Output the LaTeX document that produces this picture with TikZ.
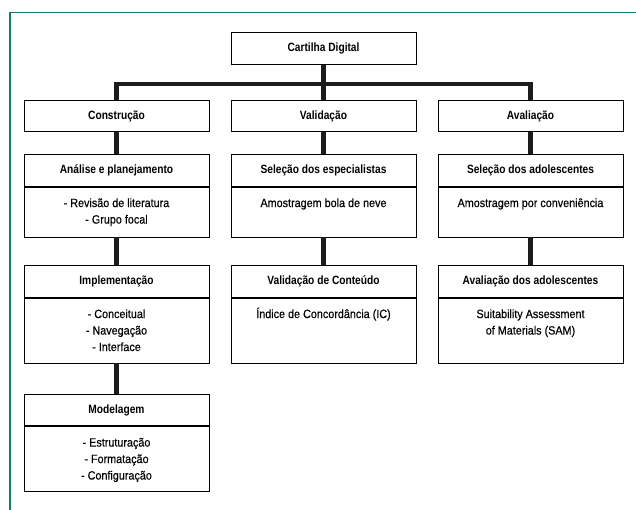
\documentclass[tikz,border=0pt]{standalone}
\usepackage{fontspec}
\setmainfont{Liberation Sans}[FakeStretch=0.9, FakeBold=0.4, BoldFeatures={FakeStretch=0.85, FakeBold=0}]
\usepackage{tikz}
\usetikzlibrary{positioning}
\definecolor{framecol}{RGB}{26,122,104}
\definecolor{linkcol}{RGB}{28,28,30}
\newcommand{\boxtext}[2]{\parbox[c][#1][t]{180pt}{\centering\rule{0pt}{20pt}#2}}
\tikzset{
    head/.style={draw, line width=0.8pt, minimum width=185pt, minimum height=31.5pt, inner sep=0pt, font=\fontsize{12}{14}\selectfont\bfseries},
    body/.style={draw, line width=0.8pt, minimum width=185pt, inner sep=0pt, font=\fontsize{12}{16.5}\selectfont},
    link/.style={line width=5.5pt, draw=linkcol},
    bus/.style={line width=4.3pt, draw=linkcol, line cap=rect}
}

\begin{document}
\begin{tikzpicture}[x=1pt, y=-1pt, font=\fontsize{12}{14}\selectfont]
    \useasboundingbox (0,0) rectangle (636,510);
    \draw[framecol, line width=1.5pt] (10,510) |- (636,12.5);

    \node[head] (ROOT) at (323.5,48.5) {Cartilha Digital};
    \coordinate (BUS) at (323.5,84);

    \node[head] (CONS) at (116.5,116) {Construção};
    \node[head] (VALI) at (323.5,116) {Validação};
    \node[head] (AVAL) at (530.5,116) {Avaliação};

    \node[head] (ANAL) at (116.5,170.5) {Análise e planejamento};
    \node[body, below=0pt of ANAL] (ANALB) {\boxtext{50pt}{- Revisão de literatura\\- Grupo focal}};
    \node[head] (SELE) at (323.5,170.5) {Seleção dos especialistas};
    \node[body, below=0pt of SELE] (SELEB) {\boxtext{50pt}{Amostragem bola de neve}};
    \node[head] (SADO) at (530.5,170.5) {Seleção dos adolescentes};
    \node[body, below=0pt of SADO] (SADOB) {\boxtext{50pt}{Amostragem por conveniência}};

    \node[head] (IMPL) at (116.5,281.5) {Implementação};
    \node[body, below=0pt of IMPL] (IMPLB) {\boxtext{65pt}{- Conceitual\\- Navegação\\- Interface}};
    \node[head] (VCON) at (323.5,281.5) {Validação de Conteúdo};
    \node[body, below=0pt of VCON] (VCONB) {\boxtext{65pt}{Índice de Concordância (IC)}};
    \node[head] (AADO) at (530.5,281.5) {Avaliação dos adolescentes};
    \node[body, below=0pt of AADO] (AADOB) {\boxtext{65pt}{Suitability Assessment\\of Materials (SAM)}};

    \node[head] (MODE) at (116.5,410) {Modelagem};
    \node[body, below=0pt of MODE] (MODEB) {\boxtext{65pt}{- Estruturação\\- Formatação\\- Configuração}};

    \draw[link] (ROOT) -- (BUS);
    \draw[bus] (CONS.north |- BUS) -- (AVAL.north |- BUS);
    \draw[link, shorten <=-2.2pt] (CONS |- BUS) -- (CONS);
    \draw[link, shorten <=-2.2pt] (BUS) -- (VALI);
    \draw[link, shorten <=-2.2pt] (AVAL |- BUS) -- (AVAL);

    \draw[link] (CONS) -- (ANAL);
    \draw[link] (VALI) -- (SELE);
    \draw[link] (AVAL) -- (SADO);

    \draw[link] (ANALB) -- (IMPL);
    \draw[link] (SELEB) -- (VCON);
    \draw[link] (SADOB) -- (AADO);

    \draw[link] (IMPLB) -- (MODE);
\end{tikzpicture}
\end{document}
